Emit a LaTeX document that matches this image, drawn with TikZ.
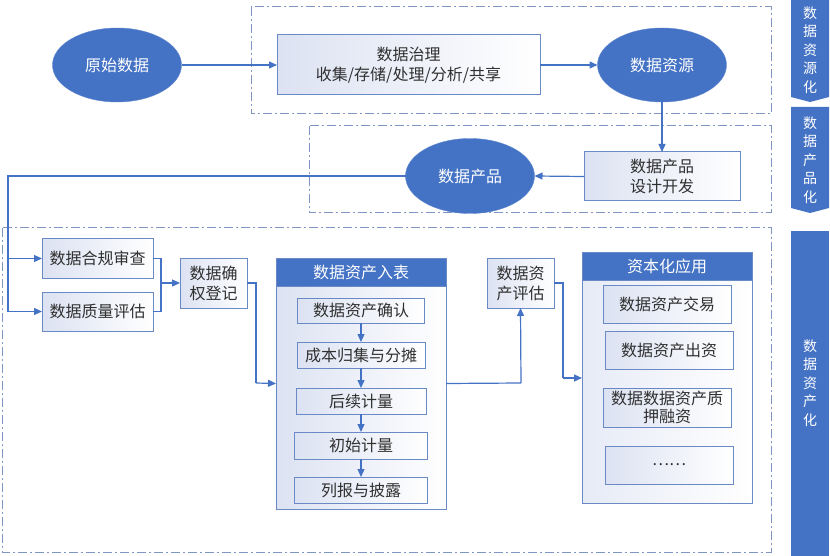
\documentclass[tikz,border=0pt]{standalone}
\usepackage{fontspec}
\setmainfont{Noto Sans CJK SC}
\usetikzlibrary{arrows.meta,shapes.geometric}
\definecolor{ob}{HTML}{4472C4}
\definecolor{bd}{HTML}{6A8AC6}
\definecolor{dd}{HTML}{7F96C2}
\definecolor{lav}{HTML}{DCE2F2}
\definecolor{tx}{HTML}{303030}
\begin{document}
\begin{tikzpicture}[x=1pt,y=-1pt,
  every node/.style={inner sep=0pt, outer sep=0pt},
  txt/.style={font=\fontsize{16}{20}\selectfont, text=tx, align=center},
  box/.style={txt, draw=bd, line width=1pt, left color=lav, right color=white},
  ell/.style={ellipse, fill=ob, draw=ob!85, text=white, font=\fontsize{16}{20}\selectfont},
  hdr/.style={fill=ob, draw=bd, line width=1pt, text=white, font=\fontsize{16}{20}\selectfont},
  frame/.style={draw=dd, line width=1pt, dash pattern=on 9pt off 3pt on 2pt off 3pt},
  conn/.style={draw=ob, line width=1.2pt},
  arr/.style={conn, -{Triangle[length=8pt,width=7pt]}},
  side/.style={fill=ob, draw=none},
  sidetxt/.style={text=white, font=\fontsize{14}{18.5}\selectfont, align=center}
]
\useasboundingbox (0,0) rectangle (830,556);
\fill[white] (0,0) rectangle (830,556);

% dash-dot frames
\draw[frame] (251,7) rectangle (771,114);
\draw[frame] (309,126) rectangle (771,213);
\draw[frame] (2,228) rectangle (771,552);

% side banners
\fill[side] (791,0) -- (829,0) -- (829,97) -- (810,102) -- (791,97) -- cycle;
\fill[side] (791,107) -- (829,107) -- (829,208) -- (810,213) -- (791,208) -- cycle;
\fill[side] (791,231) rectangle (829,556);
\node[sidetxt] (s1) at (810,50) {数\\据\\资\\源\\化};
\node[sidetxt] (s2) at (810,160) {数\\据\\产\\品\\化};
\node[sidetxt] (s3) at (810,383) {数\\据\\资\\产\\化};

% top row
\node[ell, minimum width=129pt, minimum height=74pt] (raw) at (117,65) {原始数据};
\node[box, minimum width=263pt, minimum height=60pt] (gov) at (408.5,65) {数据治理\\收集/存储/处理/分析/共享};
\node[ell, minimum width=129pt, minimum height=74pt] (res) at (662,65) {数据资源};
\node[box, minimum width=156pt, minimum height=49pt] (dev) at (662,176.5) {数据产品\\设计开发};
\node[ell, minimum width=129pt, minimum height=75pt] (prod) at (470,176) {数据产品};

\draw[arr] (raw.east) -- (gov.west);
\draw[arr] (gov.east) -- (res.west);
\draw[arr] (res.south) -- (dev.north);
\draw[arr] (dev.west) -- (prod.east);

% bottom section
\node[box, minimum width=111pt, minimum height=39pt] (comp) at (97.5,258.5) {数据合规审查};
\node[box, minimum width=111pt, minimum height=39pt] (qual) at (97.5,311.5) {数据质量评估};
\node[box, minimum width=67pt, minimum height=50pt] (conf) at (213.5,283) {数据确\\权登记};

\coordinate (bend) at (8,176);
\coordinate (j1) at (8,258.5);
\draw[conn] (prod.west) -- (bend) -- (j1);
\draw[arr] (bend) |- (qual.west);
\draw[arr] (j1) -- (comp.west);

\coordinate (m1) at (161,283);
\draw[conn] (comp.east) -| (m1);
\draw[conn] (qual.east) -| (m1);
\draw[arr] (m1) -- (conf.west);

% ledger container
\node[draw=bd, line width=1pt, left color=lav, right color=white, minimum width=170pt, minimum height=251pt] (ledger) at (361,383.5) {};
\node[hdr, minimum width=170pt, minimum height=28pt] (lhdr) at (361,272) {数据资产入表};
\node[box, minimum width=127pt, minimum height=25pt] (l1) at (361,310.5) {数据资产确认};
\node[box, minimum width=128pt, minimum height=26pt] (l2) at (361,355) {成本归集与分摊};
\node[box, minimum width=130pt, minimum height=26pt] (l3) at (361,401) {后续计量};
\node[box, minimum width=133pt, minimum height=27pt] (l4) at (361,445.5) {初始计量};
\node[box, minimum width=133pt, minimum height=26pt] (l5) at (361,490) {列报与披露};
\draw[arr] (l1) -- (l2);
\draw[arr] (l2) -- (l3);
\draw[arr] (l3) -- (l4);
\draw[arr] (l4) -- (l5);

\coordinate (c1) at (256,283);
\coordinate (c2) at (256,383);
\draw[conn] (conf.east) -- (c1) -- (c2);
\draw[arr] (c2) -- (ledger.west);

% evaluation
\node[box, minimum width=67pt, minimum height=50pt] (eval) at (520.5,283) {数据资\\产评估};
\coordinate (e1) at (521,383);
\draw[conn] (ledger.east) -- (e1);
\draw[arr] (e1) -- (eval.south);

% capitalisation container
\node[draw=bd, line width=1pt, left color=lav!70, right color=white, minimum width=170pt, minimum height=250pt] (cap) at (667,378) {};
\node[hdr, minimum width=170pt, minimum height=27pt] (chdr) at (667,266.5) {资本化应用};
\node[box, minimum width=128pt, minimum height=38pt] (k1) at (667,304) {数据资产交易};
\node[box, minimum width=128pt, minimum height=38pt] (k2) at (669,350) {数据资产出资};
\node[box, minimum width=128pt, minimum height=39pt, font=\fontsize{16}{18}\selectfont] (k3) at (667,407.5) {数据数据资产质\\押融资};
\node[box, minimum width=128pt, minimum height=38pt] (k4) at (669,465) {……};

\coordinate (f1) at (563,283);
\coordinate (f2) at (563,378);
\draw[conn] (eval.east) -- (f1) -- (f2);
\draw[arr] (f2) -- (cap.west);
\end{tikzpicture}
\end{document}
